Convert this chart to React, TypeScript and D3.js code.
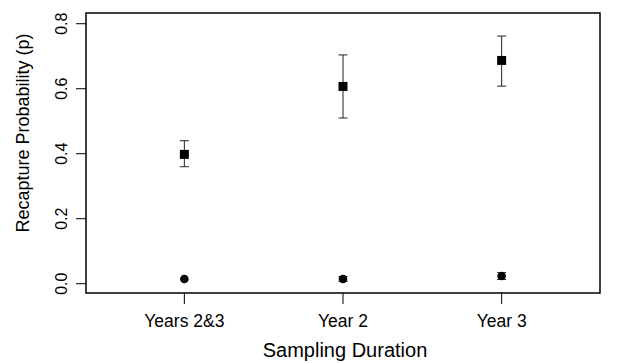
import React from 'react';
import * as d3 from 'd3';

// categories along the x axis
const categories = ['Years 2&3', 'Year 2', 'Year 3'];
// upper series (squares): estimate and interval
const squareMean = [0.398, 0.607, 0.687];
const squareLow = [0.36, 0.51, 0.608];
const squareHigh = [0.44, 0.704, 0.762];
// lower series (circles)
const circleMean = [0.0145, 0.0145, 0.0237];
const circleLow = [0.0145, 0.007, 0.013];
const circleHigh = [0.0145, 0.022, 0.034];
const yTicks = [0, 0.2, 0.4, 0.6, 0.8];

const W = 634;
const H = 363;
const margin = { left: 86, right: 34, top: 13, bottom: 70 };

export default function App() {
  const x = d3.scaleLinear().domain([0.38, 3.62]).range([margin.left, W - margin.right]);
  const y = d3.scaleLinear().domain([-0.0286, 0.833]).range([H - margin.bottom, margin.top]);
  const font = 'Liberation Sans, Arial, sans-serif';
  const bottom = H - margin.bottom;
  const cap = 4.5;

  const errBar = (i: number, lo: number, hi: number, key: string) => {
    const cx = x(i + 1);
    if (hi - lo < 0.001) return null;
    return (
      <g key={key} stroke="#222" strokeWidth={1}>
        <line x1={cx} x2={cx} y1={y(lo)} y2={y(hi)} />
        <line x1={cx - cap} x2={cx + cap} y1={y(lo)} y2={y(lo)} />
        <line x1={cx - cap} x2={cx + cap} y1={y(hi)} y2={y(hi)} />
      </g>
    );
  };

  return (
    <svg width={W} height={H} style={{ position: 'absolute', left: 0, top: 0 }} fontFamily={font}>
      <rect x={0} y={0} width={W} height={H} fill="#fff" />
      {categories.map((c, i) => errBar(i, squareLow[i], squareHigh[i], 'se' + i))}
      {categories.map((c, i) => errBar(i, circleLow[i], circleHigh[i], 'ce' + i))}
      {squareMean.map((v, i) => (
        <rect key={'s' + i} x={x(i + 1) - 4.5} y={y(v) - 4.5} width={9} height={9} fill="#000" />
      ))}
      {circleMean.map((v, i) => (
        <circle key={'c' + i} cx={x(i + 1)} cy={y(v)} r={4.3} fill="#000" />
      ))}
      <rect
        x={margin.left}
        y={margin.top}
        width={W - margin.left - margin.right}
        height={bottom - margin.top}
        fill="none"
        stroke="#000"
        strokeWidth={1.5}
      />
      {yTicks.map((t) => (
        <g key={'yt' + t}>
          <line x1={margin.left - 10} x2={margin.left} y1={y(t)} y2={y(t)} stroke="#000" />
          <text
            transform={`translate(67,${y(t)}) rotate(-90)`}
            textAnchor="middle"
            fontSize={16}
          >
            {t.toFixed(1)}
          </text>
        </g>
      ))}
      {categories.map((c, i) => (
        <g key={'xt' + i}>
          <line x1={x(i + 1)} x2={x(i + 1)} y1={bottom} y2={bottom + 11} stroke="#000" />
          <text x={x(i + 1)} y={326.5} textAnchor="middle" fontSize={17.5}>
            {c}
          </text>
        </g>
      ))}
      <text x={(margin.left + W - margin.right) / 2 + 2} y={356.5} textAnchor="middle" fontSize={20}>
        Sampling Duration
      </text>
      <text
        transform={`translate(29,${(margin.top + bottom) / 2 - 20}) rotate(-90)`}
        textAnchor="middle"
        fontSize={18}
      >
        Recapture Probability (p)
      </text>
    </svg>
  );
}
